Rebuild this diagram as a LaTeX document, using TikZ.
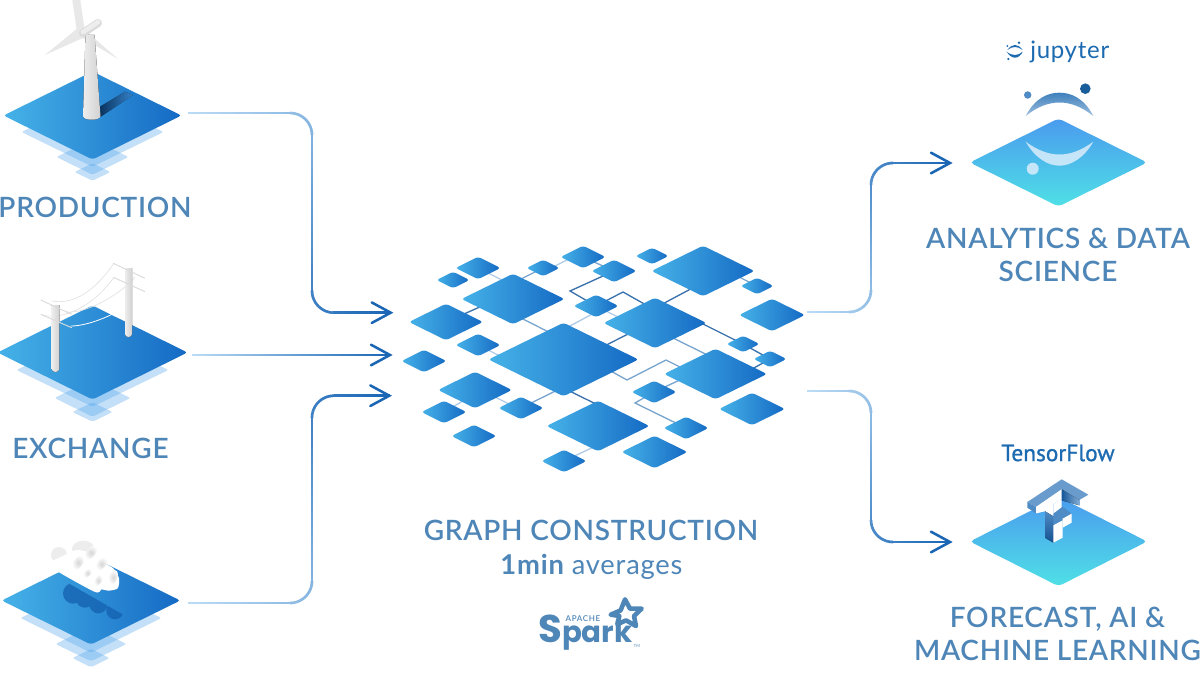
\documentclass[tikz,border=0pt]{standalone}
\usepackage{fontspec}
\usetikzlibrary{shapes.geometric,decorations.markings,backgrounds,calc}
\setmainfont{Lato}
\newfontfamily\lab[LetterSpace=2.6]{Lato Semibold}
\newfontfamily\labreg[LetterSpace=3]{Lato}
\newfontfamily\apfont[LetterSpace=8]{Lato Semibold}
\newfontfamily\popp{Poppins}
\newfontfamily\tfont[FakeBold=1]{PT Sans}
\definecolor{labc}{HTML}{4F86B8}
\definecolor{lt}{HTML}{BBDCF6}
\definecolor{dk}{HTML}{1A66B5}
\definecolor{logoc}{HTML}{1C6AB0}
\definecolor{lkd}{HTML}{3A72AE}
\definecolor{lkm}{HTML}{7AA5CE}
\definecolor{lkl}{HTML}{AFCBE6}
\definecolor{tileA}{HTML}{46B2E8}
\definecolor{tileB}{HTML}{3D96E8}
\definecolor{tileC}{HTML}{156AC4}
\definecolor{steel}{HTML}{4F8BC4}
\definecolor{HLc}{HTML}{4DA3EC}
\definecolor{tealA}{HTML}{4A9BEE}
\definecolor{tealB}{HTML}{4FE0E6}
\tikzset{
  tile/.style={diamond,shape aspect=2,inner sep=0pt,outer sep=0pt,rounded corners=2.2pt,
    left color=tileA,middle color=tileB,right color=tileC},
  undertile/.style={diamond,shape aspect=2,inner sep=0pt,outer sep=0pt,rounded corners=1.5pt,
    fill=HLc,fill opacity=.33},
  tealtile/.style={diamond,shape aspect=2,inner sep=0pt,outer sep=0pt,rounded corners=3pt,
    top color=tealA,bottom color=tealB},
  lk1/.style={draw=lkd,line width=1pt},
  lk2/.style={draw=lkm,line width=1pt},
  lk3/.style={draw=lkl,line width=1pt},
  gradstroke/.style={rounded corners=16.5pt,decorate,decoration={markings,
    mark=between positions 0 and 1 step 0.8pt with {
      \pgfmathsetmacro\pp{min(100,100*(\pgfkeysvalueof{/pgf/decoration/mark info/distance from start}/\pgfdecoratedpathlength))}
      \colorlet{cc}{dk!\pp!lt}
      \draw[cc,line width=1.9pt] (-.55pt,0)--(.55pt,0);
    }}},
  barb/.style={draw=dk,line width=1.9pt,line join=miter,line cap=round},
  biglabel/.style={text=labc,align=center,inner sep=0pt,font=\lab\fontsize{21}{24.75}\selectfont},
  poleshade/.style={left color=white!93!black,right color=white!82!black},
}
\newcommand\tl[5]{\node[tile,minimum width={(#4+5)*.75pt},minimum height={(#5+2.5)*.75pt}] (#1) at (#2,#3) {};}
\newcommand\ul[5]{\node[undertile,minimum width={(#4+3)*.75pt},minimum height={(#5+1.5)*.75pt}] (#1) at (#2,#3) {};}
\newcommand\barbhead[1]{\draw[barb] ([shift={(-19,-10.3)}]#1) -- (#1) -- ([shift={(-19,10.3)}]#1);}
\begin{document}
\begin{tikzpicture}[x=.75pt,y=-.75pt]
\useasboundingbox (0,0) rectangle (1200,674);
\clip (0,0) rectangle (1200,674);
\begin{pgfonlayer}{background}
\fill[white] (0,0) rectangle (1200,674);
\end{pgfonlayer}

% ---------- graph tiles
\tl{C}{563.5}{359.5}{145}{71}
\tl{UL}{513}{299}{98}{48}
\tl{TR}{703}{271}{98}{48}
\tl{M}{655}{323}{98}{48}
\tl{R}{715.5}{374}{98}{48}
\tl{B}{598}{426}{98}{48}
\tl{ml}{446}{322}{69}{34}
\tl{ll}{475}{390}{69}{34}
\tl{mr}{772}{315}{61}{30}
\tl{lr}{752}{409}{61}{30}
\tl{mb}{654.5}{452}{61}{30}
\tl{sa}{478}{268}{40}{20}
\tl{ta}{453}{280}{28}{14}
\tl{tb}{543}{268}{28}{14}
\tl{sb}{583}{257}{40}{20}
\tl{sc}{614}{271}{40}{20}
\tl{tc}{652}{256}{28}{14}
\tl{td}{757}{286}{28}{14}
\tl{sd}{596}{306}{40}{20}
\tl{se}{478}{345}{40}{20}
\tl{sf}{424}{361}{40}{20}
\tl{te}{743}{344}{28}{14}
\tl{tf}{770}{359}{28}{14}
\tl{sg}{654}{392}{40}{20}
\tl{sh}{521}{408}{40}{20}
\tl{si}{444}{412}{40}{20}
\tl{sj}{474}{436}{40}{20}
\tl{sk}{686}{428}{40}{20}
\tl{sl}{564}{461}{40}{20}
\coordinate (k1) at (570,291);
\coordinate (k2) at (623,292);
\coordinate (k3) at (627,380);
\coordinate (k4) at (666,360);
\coordinate (k5) at (635,403);

\begin{pgfonlayer}{background}
\draw[lk3] (sa.center) -- ([shift={(-3,-15)}]UL.center);
\draw[lk2] (tb.center) -- ([shift={(0,-16)}]UL.center);
\draw[lk3] ([shift={(0,4)}]tb.center) -- ([shift={(0,-5)}]sb.center);
\draw[lk2] (sb.center) -- (sc.center);
\draw[lk1] (sc.center) -- (k1) -- (sd.center);
\draw[lk1] (sd.center) -- (k2) -- ([shift={(0,-13)}]M.center);
\draw[lk3] (sd.center) -- ([shift={(-25,0)}]M.center);
\draw[lk3] ([shift={(0,6)}]sd.center) -- ([shift={(0,-30)}]C.center);
\draw[lk1] ([shift={(-3,13)}]TR.center) -- ([shift={(0,-15)}]M.center);
\draw[lk2] ([shift={(27,1.5)}]TR.center) -- (td.center);
\draw[lk1] ([shift={(-13,-1)}]UL.center) -- (ml.center);
\draw[lk2] ([shift={(0,15)}]UL.center) -- ([shift={(0,-20)}]C.center);
\draw[lk1] ([shift={(-15,5)}]M.center) -- ([shift={(27,-6.5)}]C.center);
\draw[lk1] ([shift={(35,-5.5)}]M.center) -- (te.center);
\draw[lk2] ([shift={(10,11)}]M.center) -- ([shift={(0,-15)}]R.center);
\draw[lk1] (te.center) -- (tf.center);
\draw[lk1] ([shift={(25,1.5)}]R.center) -- (tf.center);
\draw[lk2] ([shift={(30,2)}]C.center) -- (k3) -- (k4) -- ([shift={(-25.5,-2)}]R.center);
\draw[lk2] ([shift={(-25,1)}]R.center) -- (sg.center);
\draw[lk2] (sg.center) -- (k5) -- (sk.center);
\draw[lk3] (se.center) -- ([shift={(-53.5,1.5)}]C.center);
\draw[lk3] ([shift={(0,-3)}]ll.center) -- ([shift={(0,2)}]sh.center);
\draw[lk3] ([shift={(0,4)}]ll.center) -- (si.center);
\draw[lk2] ([shift={(0,27.5)}]C.center) -- (sh.center);
\draw[lk1] ([shift={(0,28.5)}]C.center) -- ([shift={(12,-15)}]B.center);
\draw[lk3] ([shift={(2,18)}]B.center) -- (sl.center);
\end{pgfonlayer}

% ---------- left platforms
\ul{pa}{92.5}{132}{139}{68}
\ul{pb}{92.5}{157}{69}{34}
\ul{pc}{92.5}{172}{33}{16}
\node[tile,minimum width=133.5pt,minimum height=66pt] (prod) at (92.5,115.5) {};
\ul{ea}{92.5}{370}{149}{72}
\ul{eb}{92.5}{398}{73}{36}
\ul{ec}{92.5}{412}{37}{18}
\node[tile,minimum width=142.5pt,minimum height=70.5pt] (exch) at (92.5,352.5) {};
\ul{wa}{91}{618}{138}{68}
\ul{wb}{91}{644}{68}{33}
\ul{wc}{91}{658}{34}{17}
\node[tile,minimum width=134pt,minimum height=66pt] (cons) at (91,600.5) {};

% turbine
\fill[left color=black!45!tileC,right color=tileB,opacity=.85] (100,106.7) -- (125,91.7) -- (133,95) -- (100.7,116.7) -- cycle;
\fill[white!91!black] (72,-2) -- (80,-2) -- (85,32) -- (77,32) -- cycle;
\fill[white!91!black] (79,27) -- (45,55) -- (85,37) -- cycle;
\fill[white!91!black] (76,34) -- (118,59) -- (85,30) -- cycle;
\fill[poleshade] (85.5,35) -- (94.5,35) -- (100.5,116) .. controls (100.5,121) and (83,121) .. (83,116) -- cycle;
\draw[white!86!black,line width=6pt,line cap=round] (83,33) -- (98,23);
\draw[white!93!black,line width=3.5pt,line cap=round] (83,32) -- (98,22);

% power lines
\draw[white!88!black,line width=.45pt] (52,301) .. controls (75,305) and (95,290) .. (113.5,264);
\draw[white!88!black,line width=.45pt] (66,312) .. controls (90,314) and (125,290) .. (135,277);
\draw[white!88!black,line width=.45pt] (42,315) .. controls (60,320) and (90,310) .. (113.5,278);
\draw[white,line width=.6pt] (71,326) .. controls (90,326) and (125,312) .. (145,291);
\fill[poleshade] (51.7,305) -- (59.3,305) -- (59.3,369) .. controls (59.3,373) and (51.7,373) .. (51.7,369) -- cycle;
\fill[poleshade] (125,268) -- (132,268) -- (132,334) .. controls (132,338) and (125,338) .. (125,334) -- cycle;
\draw[white!86!black,line width=.7pt] (40.7,300) -- (71.7,314.3);
\draw[white!86!black,line width=.7pt] (40.7,314.3) -- (71.7,327.7);
\draw[white!86!black,line width=.7pt] (113.3,263.3) -- (145,278.3);
\draw[white!86!black,line width=.7pt] (113.3,277.3) -- (145,291.7);

% cloud
\begin{scope}[shift={(45,540)},x=.25pt,y=-.25pt]
\begin{scope}
\clip (50,118) -- (248,232) -- (248,265) -- (30,265) -- cycle;
\fill[black!12!tileC,opacity=.7] (85,160) circle (31) (120,175) circle (28) (160,193) circle (27) (210,212) circle (26);
\end{scope}
\fill[white!93!black] (42,45) circle (24);
\fill[white!93!black] (115,28) ellipse (34 and 26);
\fill[white] plot[smooth cycle,tension=.45] coordinates {(15,80) (25,62) (60,45) (95,30) (140,40) (165,62) (205,85) (222,115) (218,145) (190,152) (170,148) (148,155)};
\foreach \ex/\ey/\er/\ang in {100/68/24/55,138/38/24/50,128/100/16/50,170/72/22/50,205/112/22/70,160/122/18/60}
  \shade[rotate around={\ang:(\ex,\ey)},inner color=black!16,outer color=white] (\ex,\ey) ellipse ({\er} and {\er*.55});
\end{scope}

% ---------- right platforms
\node[tealtile,minimum width=133pt,minimum height=66pt] (jup) at (1058.5,162.5) {};
\node[tealtile,minimum width=133pt,minimum height=67pt] (tfl) at (1058.5,541.5) {};

% jupyter art
\fill[steel] (1027.7,95) circle (3.7);
\fill[black!12!logoc] (1085.3,88.7) circle (5.3);
\shade[top color=logoc!85!white,bottom color=steel!55!white] (1025.7,116) .. controls (1035,98) and (1048,92.7) .. (1059.3,92.7) .. controls (1071,92.7) and (1084,98) .. (1093.3,116) .. controls (1082,107) and (1071,102.5) .. (1059.3,102.5) .. controls (1048,102.5) and (1037,107) .. cycle;
\fill[HLc!20!white,opacity=.85] (1025.7,141.7) .. controls (1035,158) and (1048,165.7) .. (1059.3,165.7) .. controls (1071,165.7) and (1084,158) .. (1093.3,141.7) .. controls (1082,150) and (1071,154.5) .. (1059.3,154.5) .. controls (1048,154.5) and (1037,150) .. cycle;
\fill[HLc!20!white,opacity=.85] (1032.7,168.7) circle (6);

% TF art
\begin{scope}[shift={(1020,472)},x=.25pt,y=-.25pt]
\fill[steel!85!white] (22,90) -- (125,22) -- (205,68) -- (178,84) -- (125,52) -- (48,105) -- cycle;
\fill[left color=dk!85!black,right color=steel!70!white] (125,52) -- (178,84) -- (178,100) -- (125,85) -- cycle;
\fill[steel] (22,90) -- (48,105) -- (48,124) -- (22,107) -- cycle;
\fill[white] (48,105) -- (125,52) -- (125,80) -- (100,96) -- (100,133) -- (75,118) -- (48,124) -- cycle;
\fill[white] (100,96) -- (125,80) -- (125,115) -- (100,133) -- cycle;
\fill[top color=steel,bottom color=dk!80!black] (75,118) -- (100,133) -- (100,212) -- (75,197) -- cycle;
\fill[steel] (100,125) -- (128,104) -- (155,125) -- (128,140) -- (128,146) -- (100,160) -- cycle;
\fill[white] (100,160) -- (128,145) -- (128,197) -- (100,212) -- cycle;
\fill[white] (128,140) -- (155,125) -- (155,152) -- (128,167) -- cycle;
\end{scope}

% ---------- connectors
\coordinate (pe1) at (390.7,312.7);
\coordinate (pe2) at (390,355);
\coordinate (pe3) at (389.3,395.7);
\coordinate (re1) at (950,163);
\coordinate (re2) at (950,542);
\coordinate (gr1) at (808,312);
\coordinate (gr2) at (808,391);
\path[gradstroke] ([shift={(7,-2.5)}]prod.east) -- (312,113) -- (312,312.7) -- (pe1);
\path[gradstroke] ([shift={(5,2.5)}]exch.east) -- (pe2);
\path[gradstroke] ([shift={(8,2.5)}]cons.east) -- (312,603) -- (312,395.7) -- (pe3);
\path[gradstroke] (gr1) -- (871,312) -- (871,163) -- (re1);
\path[gradstroke] (gr2) -- (871,391) -- (871,542) -- (re2);
\barbhead{pe1}
\barbhead{pe2}
\barbhead{pe3}
\barbhead{re1}
\barbhead{re2}

% ---------- labels
\node[biglabel] (lprod) at (95,207) {PRODUCTION};
\node[biglabel] (lexch) at (90.5,448) {EXCHANGE};
\node[biglabel] (lana) at (1058,254.5) {ANALYTICS \& DATA\\SCIENCE};
\node[biglabel] (lfor) at (1057.5,633.5) {FORECAST, AI \&\\MACHINE LEARNING};
\node[biglabel] (lgraph) at (591,530) {GRAPH CONSTRUCTION};
\node[text=labc,inner sep=0pt,font=\labreg\fontsize{20.5}{24}\selectfont] (lavg) at (591.5,567) {{\bfseries 1min} averages};

% logos
\node[text=logoc,inner sep=0pt,anchor=west,font=\labreg\fontsize{18}{24}\selectfont] (ljup) at (1030,52) {jupyter};
\fill[logoc] (1007.3,50) .. controls (1010,46.5) and (1012.5,45) .. (1015,45) .. controls (1017.5,45) and (1020,46.5) .. (1022.7,50) .. controls (1020,48) and (1017.5,47) .. (1015,47) .. controls (1012.5,47) and (1010,48) .. cycle;
\fill[logoc] (1006.7,51.7) .. controls (1009,55.5) and (1012,57.7) .. (1015,57.7) .. controls (1018,57.7) and (1021,55.5) .. (1022.7,51.7) .. controls (1020,54) and (1017.5,55) .. (1015,55) .. controls (1012.5,55) and (1009.5,54) .. cycle;
\fill[logoc] (1019,42.7) circle (1.4) (1007.3,46) circle (1) (1008.3,59) circle (1.2);
\node[text=logoc,inner sep=0pt,font=\tfont\fontsize{17.5}{22}\selectfont] (ltf) at (1058,453) {TensorFlow};

% spark
\node[text=labc,inner sep=0pt,anchor=base west,font=\popp\bfseries\fontsize{22}{28}\selectfont] (lspark) at (538,642) {{\fontsize{29}{30}\selectfont S}park};
\node[text=labc,inner sep=0pt,font=\apfont\fontsize{6}{8}\selectfont] (lapache) at (583,618.7) {APACHE};
\node[text=labc,inner sep=0pt,font=\labreg\fontsize{3}{4}\selectfont] (ltm) at (637,646) {TM};
\begin{scope}[shift={(530,592)},x=.25pt,y=-.25pt]
\draw[labc,line width=3.4pt,line join=round] (285,22) -- (300,50) -- (335,50) -- (312,72) -- (318,102) -- (288,85) -- (262,97) -- (268,72) -- (242,68) -- (272,55) -- cycle;
\end{scope}
\end{tikzpicture}
\end{document}
